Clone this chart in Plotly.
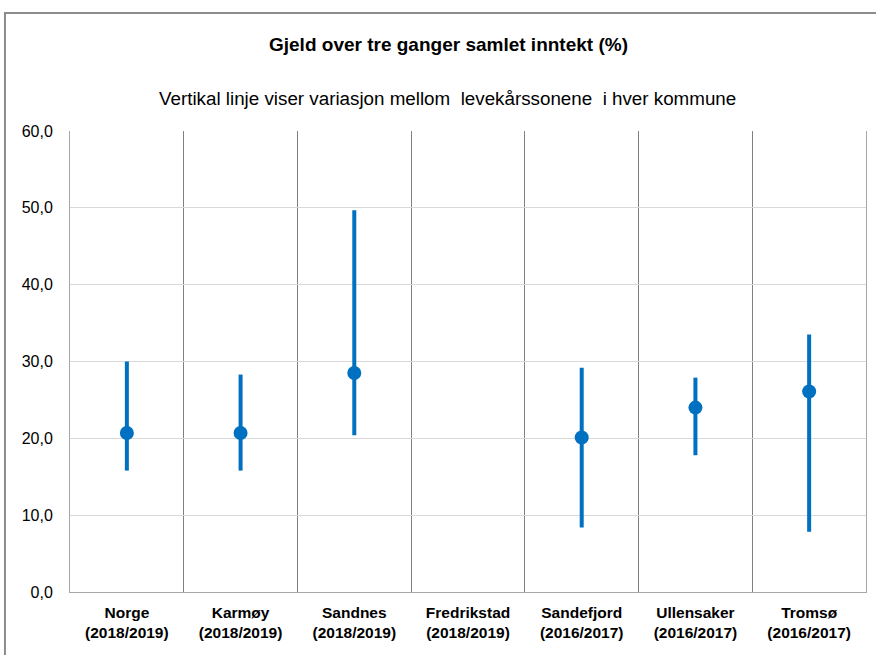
import plotly.graph_objects as go

# Kommuner og periode for hver kategori
kommuner = ["Norge", "Karmøy", "Sandnes", "Fredrikstad", "Sandefjord", "Ullensaker", "Tromsø"]
perioder = ["2018/2019", "2018/2019", "2018/2019", "2018/2019", "2016/2017", "2016/2017", "2016/2017"]

# Andel med gjeld over tre ganger samlet inntekt (%), samlet for kommunen
verdi = [20.7, 20.7, 28.5, None, 20.1, 24.0, 26.1]
# Høyeste og laveste verdi blant levekårssonene
maks = [30.0, 28.3, 49.7, None, 29.2, 27.9, 33.5]
minimum = [15.8, 15.8, 20.4, None, 8.4, 17.8, 7.85]

y_ticks = [0, 10, 20, 30, 40, 50, 60]

kategorier = [f"<b>{k}<br>({p})</b>" for k, p in zip(kommuner, perioder)]
over = [None if v is None else hi - v for v, hi in zip(verdi, maks)]
under = [None if v is None else v - lo for v, lo in zip(verdi, minimum)]

BLA = "#0070C0"
FONT = "Liberation Sans, Arial, sans-serif"

fig = go.Figure()
fig.add_trace(go.Scatter(
    x=kategorier,
    y=verdi,
    mode="markers",
    marker=dict(color=BLA, size=14),
    error_y=dict(
        type="data",
        symmetric=False,
        array=over,
        arrayminus=under,
        color=BLA,
        thickness=4,
        width=0,
    ),
    showlegend=False,
    hoverinfo="skip",
))

fig.update_layout(
    width=876,
    height=655,
    margin=dict(l=70, r=10, t=131, b=63),
    paper_bgcolor="white",
    plot_bgcolor="white",
    separators=", ",
    xaxis=dict(
        type="category",
        tickson="boundaries",
        showgrid=True,
        gridcolor="#808080",
        gridwidth=1,
        showline=True,
        linecolor="#a6a6a6",
        linewidth=1,
        mirror=False,
        ticks="",
        ticklabelstandoff=6,
        tickfont=dict(family=FONT, size=15.5, color="#000000"),
        range=[-0.5, 6.5],
    ),
    yaxis=dict(
        range=[0, 60],
        tickvals=y_ticks,
        tickformat=".1f",
        showgrid=True,
        gridcolor="#d9d9d9",
        gridwidth=1,
        zeroline=False,
        showline=True,
        linecolor="#a6a6a6",
        linewidth=1,
        mirror=True,
        ticks="",
        ticklabelstandoff=13,
        tickfont=dict(family=FONT, size=16, color="#000000"),
    ),
    shapes=[
        dict(
            type="rect", xref="paper", yref="paper",
            x0=-0.0817, x1=1.05, y0=-0.2, y1=1.256,
            line=dict(color="#8c8c8c", width=2),
            layer="below",
        )
    ],
    annotations=[
        dict(
            text="<b>Gjeld over tre ganger samlet inntekt (%)</b>",
            xref="paper", yref="paper", x=0.476, y=1.188,
            xanchor="center", yanchor="middle", showarrow=False,
            font=dict(family=FONT, size=19, color="#000000"),
        ),
        dict(
            text="Vertikal linje viser variasjon mellom  levekårssonene  i hver kommune",
            xref="paper", yref="paper", x=0.474, y=1.071,
            xanchor="center", yanchor="middle", showarrow=False,
            font=dict(family=FONT, size=18.8, color="#000000"),
        ),
    ],
)

fig.write_html("out.html")
